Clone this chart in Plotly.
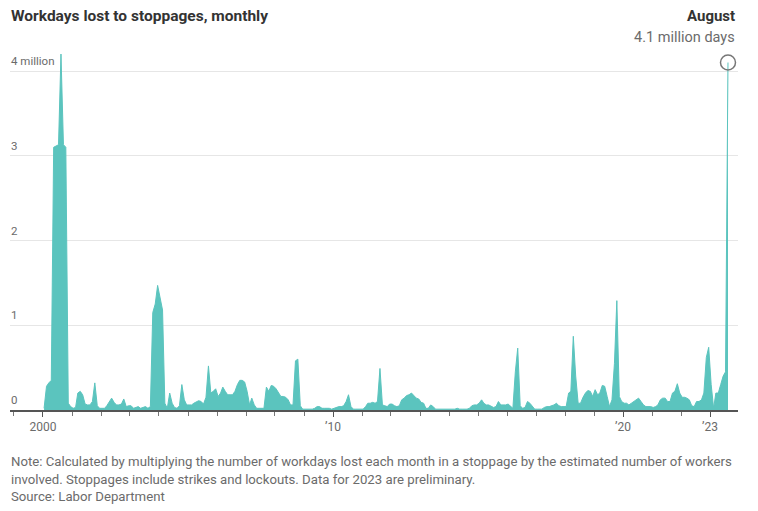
import pandas as pd
import plotly.graph_objects as go

# ---- data: workdays lost to stoppages, millions, monthly Jan 2000 - Aug 2023 ----
values_2000 = [0.02, 0.28, 0.32, 0.35, 3.10, 3.12, 3.13, 4.20, 3.13, 3.10, 0.08, 0.04]
values_2001 = [0.02, 0.03, 0.20, 0.22, 0.18, 0.07, 0.06, 0.06, 0.10, 0.32, 0.05, 0.02]
values_2002 = [0.02, 0.02, 0.05, 0.10, 0.14, 0.09, 0.06, 0.06, 0.07, 0.13, 0.04, 0.05]
values_2003 = [0.05, 0.02, 0.03, 0.04, 0.02, 0.03, 0.04, 0.02, 0.04, 1.15, 1.25, 1.47]
values_2004 = [1.30, 1.18, 0.08, 0.02, 0.20, 0.08, 0.03, 0.02, 0.05, 0.30, 0.12, 0.06]
values_2005 = [0.06, 0.06, 0.08, 0.10, 0.11, 0.10, 0.07, 0.15, 0.52, 0.20, 0.22, 0.25]
values_2006 = [0.16, 0.20, 0.27, 0.22, 0.18, 0.18, 0.18, 0.22, 0.30, 0.35, 0.35, 0.33]
values_2007 = [0.22, 0.06, 0.14, 0.06, 0.02, 0.02, 0.02, 0.02, 0.27, 0.22, 0.29, 0.28]
values_2008 = [0.25, 0.20, 0.16, 0.16, 0.15, 0.12, 0.06, 0.06, 0.58, 0.60, 0.05, 0.01]
values_2009 = [0.01, 0.01, 0.01, 0.01, 0.02, 0.04, 0.04, 0.02, 0.02, 0.02, 0.02, 0.01]
values_2010 = [0.02, 0.03, 0.04, 0.04, 0.05, 0.10, 0.18, 0.04, 0.01, 0.01, 0.01, 0.01]
values_2011 = [0.01, 0.04, 0.08, 0.08, 0.09, 0.08, 0.10, 0.49, 0.06, 0.05, 0.04, 0.07]
values_2012 = [0.07, 0.05, 0.04, 0.05, 0.12, 0.14, 0.17, 0.18, 0.20, 0.17, 0.14, 0.13]
values_2013 = [0.09, 0.08, 0.02, 0.02, 0.06, 0.04, 0.01, 0.01, 0.01, 0.01, 0.01, 0.01]
values_2014 = [0.01, 0.01, 0.01, 0.02, 0.01, 0.01, 0.01, 0.01, 0.02, 0.05, 0.06, 0.06]
values_2015 = [0.08, 0.12, 0.08, 0.06, 0.06, 0.04, 0.03, 0.04, 0.10, 0.06, 0.06, 0.06]
values_2016 = [0.07, 0.04, 0.02, 0.45, 0.73, 0.05, 0.02, 0.03, 0.10, 0.08, 0.05, 0.01]
values_2017 = [0.01, 0.01, 0.01, 0.03, 0.04, 0.04, 0.05, 0.06, 0.08, 0.05, 0.04, 0.04]
values_2018 = [0.04, 0.20, 0.22, 0.87, 0.40, 0.08, 0.08, 0.15, 0.20, 0.23, 0.22, 0.16]
values_2019 = [0.24, 0.18, 0.20, 0.29, 0.28, 0.16, 0.04, 0.12, 0.55, 1.29, 0.16, 0.10]
values_2020 = [0.08, 0.08, 0.06, 0.08, 0.10, 0.12, 0.14, 0.10, 0.06, 0.04, 0.04, 0.04]
values_2021 = [0.03, 0.04, 0.06, 0.12, 0.14, 0.14, 0.10, 0.10, 0.20, 0.22, 0.31, 0.20]
values_2022 = [0.15, 0.15, 0.14, 0.12, 0.05, 0.04, 0.10, 0.10, 0.12, 0.20, 0.62, 0.74]
values_2023 = [0.30, 0.02, 0.20, 0.20, 0.30, 0.40, 0.45, 4.10]

workdays_lost = (values_2000 + values_2001 + values_2002 + values_2003 + values_2004
                 + values_2005 + values_2006 + values_2007 + values_2008 + values_2009
                 + values_2010 + values_2011 + values_2012 + values_2013 + values_2014
                 + values_2015 + values_2016 + values_2017 + values_2018 + values_2019
                 + values_2020 + values_2021 + values_2022 + values_2023)
months = pd.date_range("2000-01-01", periods=len(workdays_lost), freq="MS") + pd.Timedelta(days=14)

x_tickvals = ["2000-01-01", "2010-01-01", "2020-01-01", "2023-01-01"]
x_ticktext = ["2000", "\u201910", "\u201920", "\u201923"]
y_tickvals = [0, 1, 2, 3, 4]
y_ticktext = ["0", "1", "2", "3", "4 million"]

title_text = "Workdays lost to stoppages, monthly"
callout_month = "August"
callout_value = "4.1 million days"
note_lines = [
    "Note: Calculated by multiplying the number of workdays lost each month in a stoppage by the estimated number of workers",
    "involved. Stoppages include strikes and lockouts. Data for 2023 are preliminary.",
    "Source: Labor Department",
]

# ---- layout geometry (pixels) ----
W, H = 758, 511
ML, MR, MT, MB = 10, 20, 46, 101
plot_h = H - MT - MB
FONT = "Roboto, 'Noto Sans', sans-serif"
TEAL = "#5BC4BE"
GRAY = "#6b6b6b"


def py(px):
    """pixel y (from top) -> paper y"""
    return (H - MB - px) / plot_h


fig = go.Figure()
fig.add_trace(go.Scatter(
    x=months, y=workdays_lost, mode="lines", fill="tozeroy",
    line=dict(color=TEAL, width=1), fillcolor=TEAL, hoverinfo="x+y",
))
fig.add_trace(go.Scatter(
    x=[months[-1]], y=[workdays_lost[-1]], mode="markers",
    marker=dict(symbol="circle-open", size=15, color="#777777", line=dict(width=1.5)),
    hoverinfo="skip",
))

fig.update_layout(
    width=W, height=H,
    margin=dict(l=ML, r=MR, t=MT, b=MB),
    paper_bgcolor="white", plot_bgcolor="white",
    showlegend=False,
    font=dict(family=FONT, color=GRAY),
    xaxis=dict(
        type="date",
        range=["1998-11-12", "2023-12-19"],
        tickvals=x_tickvals, ticktext=x_ticktext,
        showgrid=False, zeroline=False,
        showline=True, linecolor="#555555", linewidth=1.5,
        ticks="outside", ticklen=5, tickcolor="#555555", tickwidth=1,
        minor=dict(ticks="outside", dtick="M12", tick0="2000-01-01", ticklen=4,
                   tickcolor="#777777", tickwidth=1, showgrid=False),
        tickfont=dict(size=12, color=GRAY, family=FONT),
    ),
    yaxis=dict(
        range=[0, (H - MB - MT) / 84.75],
        tickvals=y_tickvals,
        showticklabels=False,
        showgrid=True, gridcolor="#e6e6e6", gridwidth=1,
        zeroline=False, showline=False, ticks="",
    ),
)

annotations = [
    dict(text="<b>" + title_text + "</b>", x=0, xanchor="left", y=py(16), yanchor="middle",
         xref="paper", yref="paper", font=dict(size=15.5, color="#333333", family=FONT)),
    dict(text="<b>" + callout_month + "</b>", x=1, xanchor="right", y=py(16), yanchor="middle",
         xref="paper", yref="paper", font=dict(size=15, color="#333333", family=FONT)),
    dict(text=callout_value, x=1, xanchor="right", y=py(37), yanchor="middle",
         xref="paper", yref="paper", font=dict(size=14.5, color=GRAY, family=FONT)),
]
for line, ypx in zip(note_lines, [461, 479, 496]):
    annotations.append(dict(text=line, x=0, xanchor="left", y=py(ypx), yanchor="middle",
                            xref="paper", yref="paper",
                            font=dict(size=13.2, color=GRAY, family=FONT)))
for val, lab in zip(y_tickvals, y_ticktext):
    annotations.append(dict(text=lab, x=0, xanchor="left", xref="paper",
                            y=val, yref="y", yanchor="bottom", yshift=1,
                            font=dict(size=11.5, color=GRAY, family=FONT)))
for a in annotations:
    a.update(showarrow=False, xshift=a.get("xshift", 0) - 1)
fig.update_layout(annotations=annotations)

fig.write_html("out.html", config={"displayModeBar": False},
               post_script="document.body.style.margin='0';document.body.style.overflow='hidden';")
